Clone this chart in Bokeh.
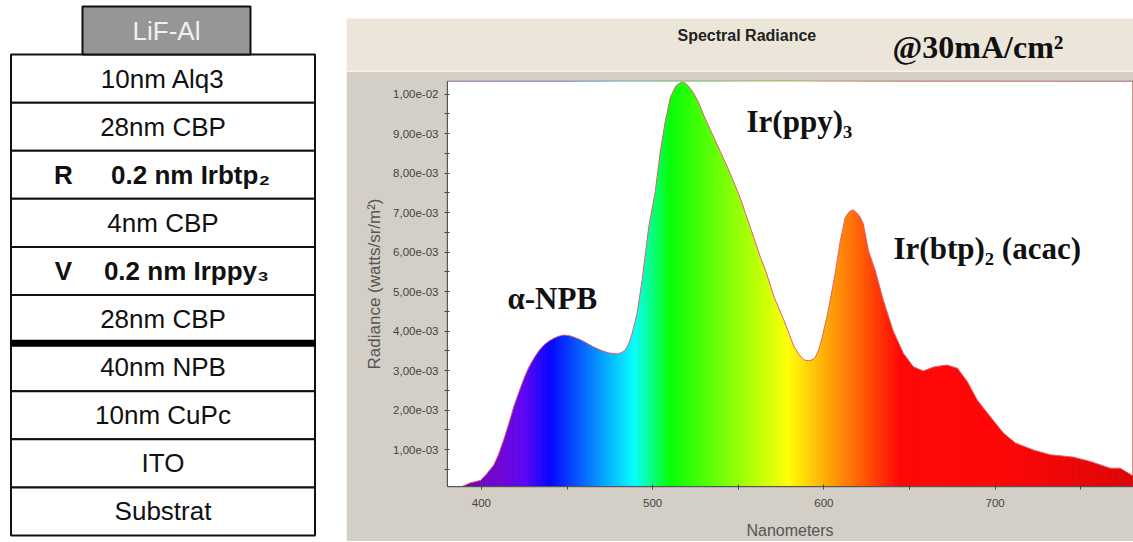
import numpy as np
from bokeh.plotting import figure
from bokeh.layouts import row, column
from bokeh.embed import file_html
from bokeh.resources import INLINE
from bokeh.models import Range1d, FixedTicker, Label
from bokeh.core.properties import value

# Device stack, top to bottom
layer_names = ["LiF-Al", "10nm Alq3", "28nm CBP", "0.2 nm Irbtp₂", "4nm CBP",
               "0.2 nm Irppy₃", "28nm CBP", "40nm NPB", "10nm CuPc", "ITO", "Substrat"]
emitter_marks = ["R", "V"]
peak_labels = ["α-NPB", "Ir(ppy)₃", "Ir(btp)₂ (acac)"]
chart_title = "Spectral Radiance"
condition = "@30mA/cm²"

# Spectrum (nm, radiance in 1e-3 W/sr/m2)
wavelength = [380, 388.7, 393.6, 399.4, 403, 407.2, 410, 413, 416, 418.9, 422, 424.8, 427.5, 430.6, 433.5, 436.5, 439.5, 442.3, 445, 448, 451, 453.9, 458,
              461.7, 465.5, 469.5, 474, 479, 481.5, 484, 486, 488, 490.9, 493.8, 497.7, 501.6, 504.5, 507.4, 510.3, 513.2, 515,
              517, 519, 521, 524, 526.8, 530, 533.7, 539.5, 545.4, 551, 557, 562.9, 566, 570.9, 576.7, 582.6,
              586, 588.4, 591, 593, 595, 597, 598.9, 602.6, 606.6, 609.6, 612.5, 615, 617, 619, 621, 623, 626, 630, 634.7,
              640.5, 646.4, 652.2, 658, 664, 668, 672, 678, 683.8, 689.6, 697.2, 704.8, 711.8, 722.3,
              732.2, 745.6, 755.6, 767.2, 773, 779.6, 781]
radiance = [0.066, 0.066, 0.16, 0.22, 0.38, 0.61, 0.88, 1.25, 1.66, 2.09, 2.47, 2.8, 3.07, 3.31, 3.5, 3.65, 3.75, 3.82, 3.87, 3.9, 3.89, 3.85, 3.78,
            3.69, 3.6, 3.52, 3.45, 3.42, 3.45, 3.52, 3.68, 3.94, 4.45, 5.28, 6.63, 7.56, 8.56, 9.32, 9.91, 10.18, 10.26,
            10.3, 10.28, 10.2, 10.02, 9.79, 9.45, 9.1, 8.55, 7.98, 7.39, 6.63, 5.87, 5.53, 4.86, 4.27, 3.6,
            3.38, 3.27, 3.25, 3.27, 3.34, 3.53, 3.82, 4.53, 5.46, 6.29, 6.88, 7.03, 7.07, 7.0, 6.9, 6.72, 6.04, 5.53, 4.78,
            4.0, 3.44, 3.1, 2.99, 3.09, 3.12, 3.14, 3.06, 2.72, 2.25, 1.83, 1.42, 1.17, 0.99,
            0.87, 0.81, 0.7, 0.53, 0.53, 0.36, 0.33]

# Colour of the spectrum at given wavelengths
stop_nm = [380, 410, 425, 440, 489, 510, 579, 645, 700, 780]
stop_rgb = [(110, 0, 170), (110, 0, 210), (90, 0, 245), (0, 0, 255), (0, 255, 255), (0, 255, 0),
            (255, 255, 0), (255, 0, 0), (255, 0, 0), (222, 0, 0)]

x_ticks = [400, 450, 500, 550, 600, 650, 700, 750]
x_tick_labels = ["400", "", "500", "", "600", "", "700", ""]
y_ticks = [1, 2, 3, 4, 5, 6, 7, 8, 9, 10]
y_tick_labels = ["1,00e-03", "2,00e-03", "3,00e-03", "4,00e-03", "5,00e-03",
                 "6,00e-03", "7,00e-03", "8,00e-03", "9,00e-03", "1,00e-02"]
y_minor = [0.5, 1.5, 2.5, 3.5, 4.5, 5.5, 6.5, 7.5, 8.5, 9.5]

ROW = 48.1
SANS = value("Liberation Sans")
SERIF = value("Liberation Serif")

# ---- left: layer stack
s = figure(width=346, height=542, output_backend="svg", toolbar_location=None,
           x_range=Range1d(0, 346),
           y_range=Range1d(10.5 + 7 / ROW, -0.5 - 6 / ROW),
           min_border=0, outline_line_color=None, background_fill_color="white",
           border_fill_color="white", frame_align=False)
s.axis.visible = False
s.grid.visible = False
idx = list(range(len(layer_names)))
s.hbar(y=idx[1:], left=10.5, right=314.5, height=1, fill_color="white", line_color="#111111", line_width=2)
s.hbar(y=idx[:1], left=82, right=250, height=1, fill_color="#969696", line_color="#111111", line_width=2)
s.segment(x0=[10], x1=[315], y0=[6.5], y1=[6.5], line_color="#000000", line_width=7)

plain = [i for i in idx[1:] if i not in (3, 5)]
s.text(x=[162.5] * len(plain), y=plain, text=[layer_names[i] for i in plain], text_font=SANS,
       text_font_size="26px", text_color="#111111", text_align="center", text_baseline="middle")
s.text(x=[166], y=[0], text=[layer_names[0]], text_font=SANS, text_font_size="26px",
       text_color="#f0f0f0", text_align="center", text_baseline="middle")
s.text(x=[190, 186], y=[3, 5], text=[layer_names[3], layer_names[5]], text_font=SANS, text_font_style="bold",
       text_font_size="26px", text_color="#111111", text_align="center", text_baseline="middle")
s.text(x=[63, 63], y=[3, 5], text=emitter_marks, text_font=SANS, text_font_style="bold",
       text_font_size="26px", text_color="#111111", text_align="center", text_baseline="middle")

# ---- right top: window title band
b = figure(width=787, height=53, margin=(18, 0, 0, 0), output_backend="svg", toolbar_location=None,
           x_range=Range1d(346, 1133), y_range=Range1d(71, 18), min_border=0,
           outline_line_color=None, background_fill_color="#ebe6d9", border_fill_color="#ebe6d9",
           frame_align=False)
b.axis.visible = False
b.grid.visible = False
b.segment(x0=[346], x1=[1133], y0=[70.5], y1=[70.5], line_color="#f3eee0", line_width=1.5)
b.text(x=[677], y=[35], text=[chart_title], text_font=SANS, text_font_style="bold", text_font_size="16px",
       text_color="#222222", text_align="left", text_baseline="middle")
b.text(x=[892], y=[46], text=[condition], text_font=SERIF, text_font_style="bold", text_font_size="32px",
       text_color="#111111", text_align="left", text_baseline="middle")

# ---- right: spectrum
Y0, Y1 = 0.066, 10.32
p = figure(width=787, height=470, margin=(0, 0, 0, 0), output_backend="svg", toolbar_location=None,
           x_range=Range1d(380.2, 780.2), y_range=Range1d(Y0, Y1),
           min_border_left=101, min_border_right=1, min_border_top=10, min_border_bottom=54,
           background_fill_color="white", border_fill_color="#d3cec6",
           outline_line_color="#666666", outline_line_width=1.5, frame_align=False)
p.grid.visible = False

edges = np.arange(380, 781, 0.5)
channels = [np.interp(edges, stop_nm, [c[k] for c in stop_rgb]).astype(int) for k in range(3)]
colors = ["#%02x%02x%02x" % (r, g, b_) for r, g, b_ in zip(*channels)]
p.quad(left=edges, right=edges + 0.5, bottom=Y0, top=Y1, fill_color=colors, line_color=colors, line_width=0.6)

rad = np.array(radiance)
p.varea(x=wavelength, y1=rad, y2=Y1 + 1, fill_color="white")
p.line(x=wavelength, y=rad, line_color="#e0606a", line_width=1)

p.xaxis.ticker = FixedTicker(ticks=x_ticks)
p.xaxis.major_label_overrides = dict(zip(x_ticks, x_tick_labels))
p.xaxis.axis_label = "Nanometers"
p.yaxis.ticker = FixedTicker(ticks=y_ticks, minor_ticks=y_minor)
p.yaxis.major_label_overrides = dict(zip(y_ticks, y_tick_labels))
p.yaxis.axis_label = "Radiance (watts/sr/m²)"
for ax in (p.xaxis, p.yaxis):
    ax.axis_label_text_font = "Liberation Sans"
    ax.axis_label_text_font_style = "normal"
    ax.axis_label_text_color = "#555555"
    ax.major_label_text_font = "Liberation Sans"
    ax.major_label_text_font_size = "11.5px"
    ax.major_label_text_color = "#444444"
    ax.axis_line_color = "#555555"
    ax.major_tick_line_color = "#444444"
    ax.minor_tick_line_color = "#444444"
    ax.major_tick_in = 2
    ax.major_tick_out = 3
p.xaxis.axis_label_text_font_size = "16px"
p.yaxis.axis_label_text_font_size = "17px"
p.yaxis.minor_tick_in = 2
p.yaxis.minor_tick_out = 3
p.yaxis.major_label_standoff = 6
p.yaxis.major_label_orientation = 0
p.yaxis.axis_label_standoff = 6
p.xaxis.major_label_standoff = 9
p.xaxis.axis_label_standoff = 12

for txt, cx, cy in [(peak_labels[0], 507 - 346, 298 - 71), (peak_labels[1], 746 - 346, 121 - 71),
                    (peak_labels[2], 893 - 346, 248 - 71)]:
    p.add_layout(Label(x=cx, y=cy, x_units="canvas", y_units="canvas", text=txt, level="overlay",
                       text_font="Liberation Serif", text_font_style="bold", text_font_size="31px",
                       text_color="#111111", text_baseline="middle", text_align="left"))

page = row(s, column(b, p, spacing=0), spacing=0)
open("out.html", "w").write(file_html(page, INLINE))
